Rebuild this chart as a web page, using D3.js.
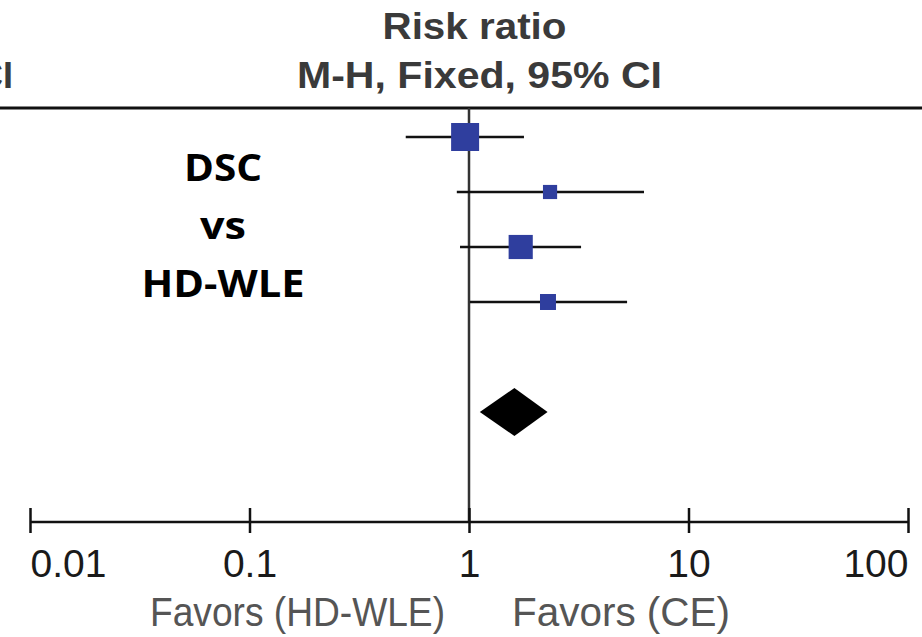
<!DOCTYPE html>
<html>
<head>
<meta charset="utf-8">
<script src="https://cdn.jsdelivr.net/npm/d3@7"></script>
<style>
  body { margin: 0; background: #fff; }
  svg { font-family: "Liberation Sans", Arial, sans-serif; }
</style>
</head>
<body>
<script>
// study rows (risk ratio, lower / upper CI, weight %)
const studies = ["s1", "s2", "s3", "s4"];
const rr     = [0.96, 2.34, 1.72, 2.29];
const lower  = [0.515, 0.88, 0.91, 1.01];
const upper  = [1.78, 6.27, 3.24, 5.25];
const weight = [43, 11, 32, 14];

// pooled estimate
const pooled = {rr: 1.61, lower: 1.12, upper: 2.28};

const tickValues = [0.01, 0.1, 1, 10, 100];
const tickLabels = ["0.01", "0.1", "1", "10", "100"];

const width = 922, height = 637;

const svg = d3.select("body").append("svg")
    .attr("width", width)
    .attr("height", height);

const x = d3.scaleLog().domain([0.01, 100]).range([30, 908]);
const y = d3.scalePoint().domain(d3.range(6)).range([137, 412]);
const side = d3.scaleSqrt().domain([0, 43]).range([0, 28]);

const axisY = 522, topY = 108;

// headers
svg.append("text")
    .attr("x", 474.5).attr("y", 39)
    .attr("text-anchor", "middle")
    .attr("font-size", 36).attr("font-weight", "bold")
    .attr("fill", "#3a3a3a")
    .attr("textLength", 184).attr("lengthAdjust", "spacingAndGlyphs")
    .text("Risk ratio");
svg.append("text")
    .attr("x", 479.5).attr("y", 88)
    .attr("text-anchor", "middle")
    .attr("font-size", 36).attr("font-weight", "bold")
    .attr("fill", "#3a3a3a")
    .attr("textLength", 365).attr("lengthAdjust", "spacingAndGlyphs")
    .text("M-H, Fixed, 95% CI");
// column header cut by the left edge, as in the source
svg.append("text")
    .attr("x", 13).attr("y", 88)
    .attr("text-anchor", "end")
    .attr("font-size", 36).attr("font-weight", "bold")
    .attr("fill", "#3a3a3a")
    .text("CI");

svg.append("line")
    .attr("x1", 0).attr("x2", width)
    .attr("y1", topY).attr("y2", topY)
    .attr("stroke", "#111").attr("stroke-width", 3);

// comparison label
const lab = svg.append("g")
    .style("font-family", "'Open Sans', Lato, sans-serif")
    .attr("font-weight", "bold")
    .attr("font-size", 38)
    .attr("text-anchor", "middle")
    .attr("fill", "#000");
[["DSC", 181, 78], ["vs", 239, 46], ["HD-WLE", 297, 163]].forEach(([t, yy, w]) => {
    lab.append("text").attr("x", 223).attr("y", yy)
        .attr("textLength", w).attr("lengthAdjust", "spacingAndGlyphs")
        .text(t);
});

// line of no effect
svg.append("line")
    .attr("x1", x(1)).attr("x2", x(1))
    .attr("y1", topY).attr("y2", axisY)
    .attr("stroke", "#333").attr("stroke-width", 2.5);

// CI lines
svg.append("g").selectAll("line")
    .data(studies)
    .join("line")
    .attr("x1", (d, i) => x(lower[i]))
    .attr("x2", (d, i) => x(upper[i]))
    .attr("y1", (d, i) => y(i))
    .attr("y2", (d, i) => y(i))
    .attr("stroke", "#111").attr("stroke-width", 2.5);

// squares
svg.append("g").selectAll("rect")
    .data(studies)
    .join("rect")
    .attr("x", (d, i) => x(rr[i]) - side(weight[i]) / 2)
    .attr("y", (d, i) => y(i) - side(weight[i]) / 2)
    .attr("width", (d, i) => side(weight[i]))
    .attr("height", (d, i) => side(weight[i]))
    .attr("fill", "#2f3e9e");

// pooled diamond
const dy = y(5), dh = 24;
svg.append("path")
    .attr("d", `M${x(pooled.lower)},${dy} L${x(pooled.rr)},${dy - dh} L${x(pooled.upper)},${dy} L${x(pooled.rr)},${dy + dh} Z`)
    .attr("fill", "#000");

// x axis
const axis = svg.append("g")
    .attr("transform", `translate(0,${axisY})`)
    .call(d3.axisBottom(x).tickValues(tickValues).tickFormat((d, i) => tickLabels[i]).tickSize(0));
axis.attr("font-family", null).attr("font-size", null);
axis.select(".domain").remove();
axis.append("line")
    .attr("x1", x(0.01)).attr("x2", x(100))
    .attr("stroke", "#111").attr("stroke-width", 2.5);
axis.selectAll(".tick line")
    .attr("y1", -14).attr("y2", 11)
    .attr("stroke", "#111").attr("stroke-width", 2.5);
axis.selectAll(".tick text")
    .attr("y", 55).attr("dy", 0)
    .attr("font-size", 39)
    .attr("fill", "#1a1a1a")
    .attr("text-anchor", (d, i) => i === 0 ? "start" : i === tickValues.length - 1 ? "end" : "middle");

// favours labels
svg.append("text")
    .attr("x", 445).attr("y", 626)
    .attr("text-anchor", "end")
    .attr("font-size", 40).attr("fill", "#555")
    .attr("textLength", 295).attr("lengthAdjust", "spacingAndGlyphs")
    .text("Favors (HD-WLE)");
svg.append("text")
    .attr("x", 512).attr("y", 626)
    .attr("text-anchor", "start")
    .attr("font-size", 40).attr("fill", "#555")
    .attr("textLength", 218).attr("lengthAdjust", "spacingAndGlyphs")
    .text("Favors (CE)");
</script>
</body>
</html>
